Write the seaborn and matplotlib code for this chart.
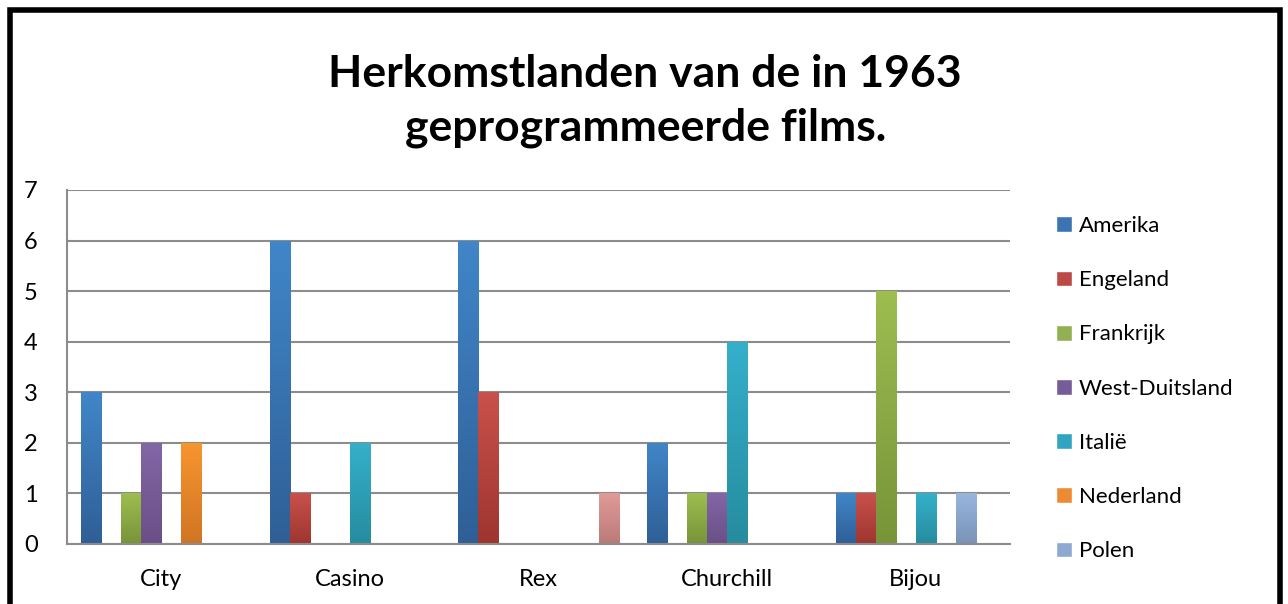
import numpy as np
import pandas as pd
import matplotlib
matplotlib.use("Agg")
import matplotlib.pyplot as plt
import seaborn as sns
from matplotlib.patches import Rectangle, Patch
from matplotlib.colors import to_rgb

bioscopen = ["City", "Casino", "Rex", "Churchill", "Bijou"]
landen = ["Amerika", "Engeland", "Frankrijk", "West-Duitsland", "Italië",
          "Nederland", "Polen", "Overig"]

# films per land, per bioscoop (City, Casino, Rex, Churchill, Bijou)
amerika = [3, 6, 6, 2, 1]
engeland = [0, 1, 3, 0, 1]
frankrijk = [1, 0, 0, 1, 5]
west_duitsland = [2, 0, 0, 1, 0]
italie = [0, 2, 0, 4, 1]
nederland = [2, 0, 0, 0, 0]
polen = [0, 0, 0, 0, 1]
overig = [0, 0, 1, 0, 0]  # 8th series, cut off from the legend

# top / bottom of the Excel-style gradient
kleuren_top = ["#4086C8", "#C9514B", "#9DBD50", "#8366A6", "#35B0CB",
               "#F7952F", "#98B6DD", "#E19A98"]
kleuren_onder = ["#2F5F96", "#9E3530", "#789439", "#6A4F87", "#268C9E",
                 "#D07523", "#7A93B7", "#B97B79"]
kleuren = ["#3A74B3", "#BB4A46", "#92B052", "#775C9A", "#31A5C0",
           "#EE8B32", "#8EA9CF", "#D68E8C"]

reeksen = [amerika, engeland, frankrijk, west_duitsland, italie, nederland, polen, overig]
rows = []
for land, waarden in zip(landen, reeksen):
    for bios, w in zip(bioscopen, waarden):
        rows.append({"bioscoop": bios, "land": land, "films": w})
df = pd.DataFrame(rows)

sns.set_style("white")
plt.rcParams["font.family"] = ["Lato", "DejaVu Sans"]
plt.rcParams["text.color"] = "black"
plt.rcParams["xtick.labelcolor"] = "black"
plt.rcParams["ytick.labelcolor"] = "black"

fig = plt.figure(figsize=(12.88, 6.04), dpi=100)
ax = fig.add_axes([67 / 1288, 1 - 544 / 604, (1010 - 67) / 1288, (544 - 190) / 604])

sns.barplot(data=df, x="bioscoop", y="films", hue="land", order=bioscopen,
            hue_order=landen, palette=kleuren, width=0.85, ax=ax,
            legend=False, saturation=1, linewidth=0)

# vertical gradient on every bar, clipped to the bar itself
for bar in list(ax.patches):
    h = bar.get_height()
    if h <= 0:
        continue
    fc = np.array(bar.get_facecolor()[:3])
    i = int(np.argmin([np.sum((fc - np.array(to_rgb(k))) ** 2) for k in kleuren]))
    top = np.array(to_rgb(kleuren_top[i]))
    bot = np.array(to_rgb(kleuren_onder[i]))
    t = np.linspace(0, 1, 64)[:, None]
    grad = (top * (1 - t) + bot * t)[:, None, :]
    x0 = bar.get_x()
    im = ax.imshow(grad, extent=[x0, x0 + bar.get_width(), 0, h], aspect="auto",
                   origin="upper", zorder=bar.get_zorder() + 0.1, interpolation="bilinear")
    im.set_clip_path(bar)

grijs = "#8C8C8C"
ax.set_ylim(0, 7)
ax.set_xlim(-0.5, len(bioscopen) - 0.5)
ax.set_aspect("auto")
ax.set_yticks(range(0, 8))
ax.yaxis.grid(True, color=grijs, linewidth=1.5)
ax.set_axisbelow(True)
for s in ["top", "right"]:
    ax.spines[s].set_visible(False)
for s in ["left", "bottom"]:
    ax.spines[s].set_color(grijs)
    ax.spines[s].set_linewidth(1.5)
ax.tick_params(axis="y", length=7, width=1.5, color=grijs, labelsize=17, pad=14)
ax.tick_params(axis="x", which="major", length=0, labelsize=17, pad=18)
ax.set_xticks(np.arange(-0.5, len(bioscopen)), minor=True)
ax.tick_params(axis="x", which="minor", length=8, width=1.5, color=grijs)
ax.set_xlabel("")
ax.set_ylabel("")

fig.text(0.501, 1 - 101 / 604, "Herkomstlanden van de in 1963\ngeprogrammeerde films.",
         ha="center", va="center", fontsize=32, fontweight="bold", linespacing=1.42)

handles = [Patch(facecolor=c, label=l) for c, l in zip(kleuren[:7], landen[:7])]
fig.legend(handles=handles, loc="upper left", bbox_to_anchor=(1036 / 1288, 1 - 196 / 604),
           frameon=False, fontsize=16, labelspacing=1.54, handlelength=0.72,
           handleheight=0.72, handletextpad=0.3)

fig.patches.append(Rectangle((10 / 1288, -0.1), 1270 / 1288, 1.1 - 10 / 604,
                             transform=fig.transFigure, fill=False,
                             edgecolor="black", linewidth=4))

fig.savefig("out.png", dpi=100)
